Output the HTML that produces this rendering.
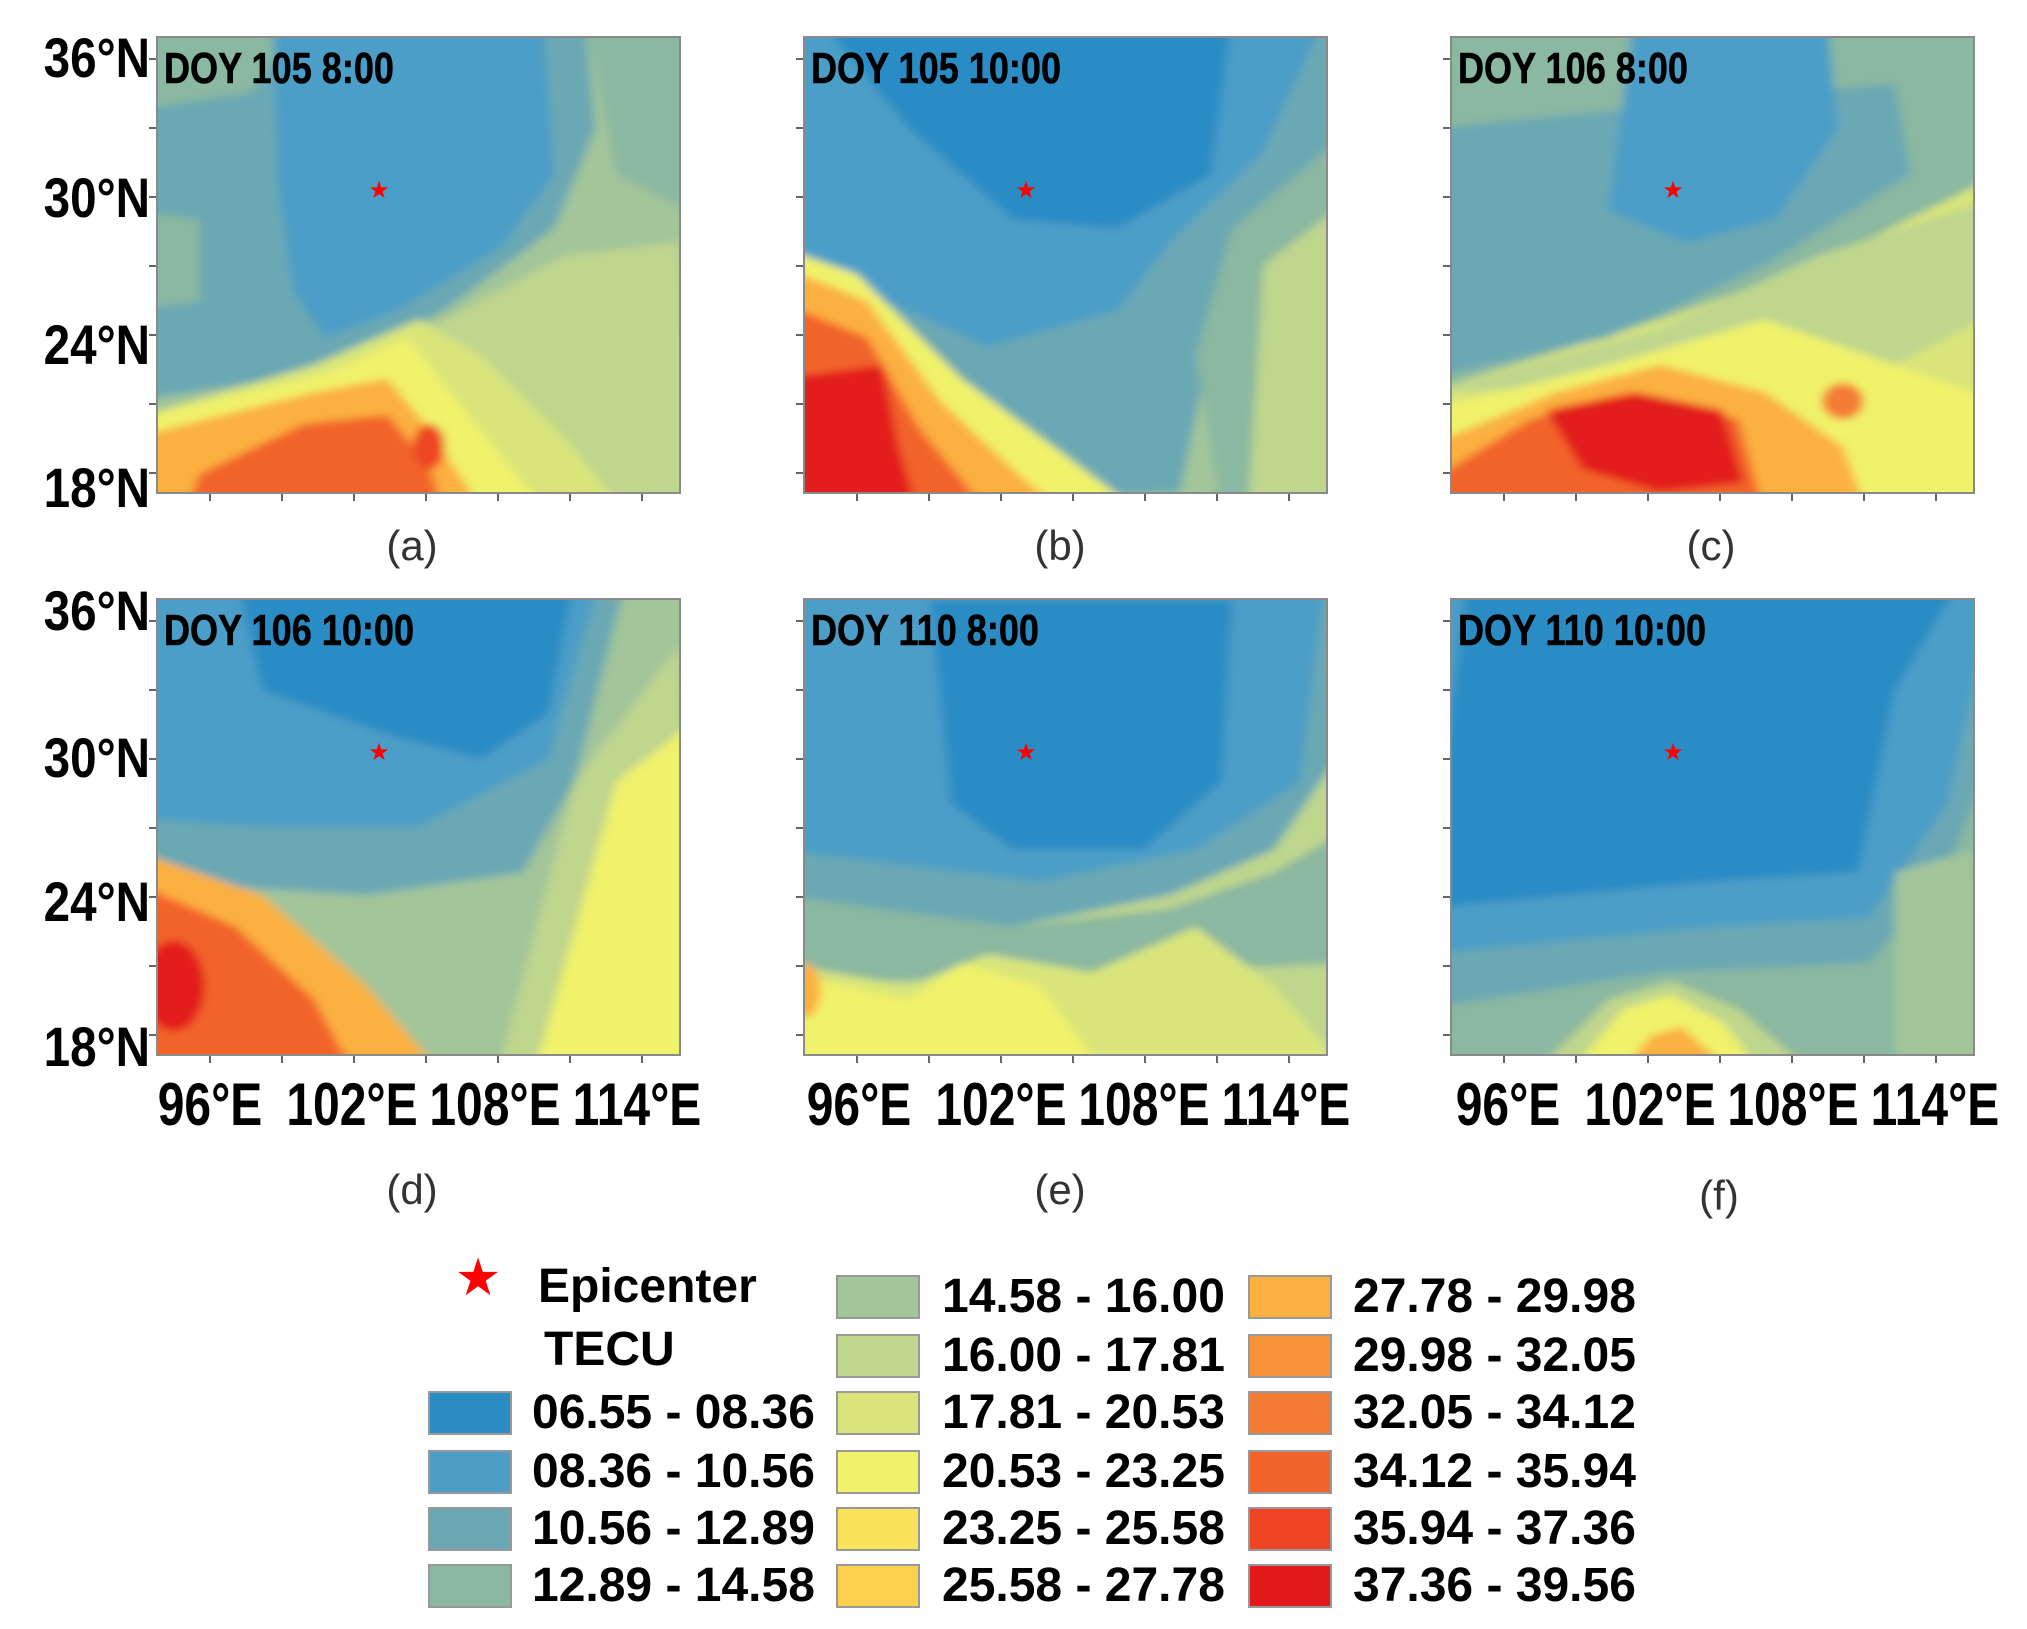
<!DOCTYPE html>
<html><head><meta charset="utf-8"><style>
body{margin:0;width:2027px;height:1629px;background:#fff;position:relative;overflow:hidden;font-family:"Liberation Sans",sans-serif;}
.p{position:absolute;width:525px;height:458px;border:2px solid #8a8a8a;box-sizing:border-box;overflow:hidden}
.p svg{position:absolute;left:0;top:0;width:100%;height:100%}
.t{position:absolute;left:6px;top:6px;font-weight:bold;font-size:44px;color:#000;transform:scaleX(0.82);transform-origin:left top;white-space:nowrap;-webkit-text-stroke:0.6px #000}
.st{position:absolute;color:#f00;font-size:24px;line-height:24px;transform:translate(-50%,-50%)}
.yl{position:absolute;font-weight:bold;font-size:56px;width:150px;text-align:right;transform:scaleX(0.85) translateY(-50%);transform-origin:right center;line-height:56px}
.xl{position:absolute;font-weight:bold;font-size:60px;transform:translate(-50%,-50%) scaleX(0.8);line-height:60px;white-space:nowrap}
.cap{position:absolute;font-size:42px;color:#333;transform:translate(-50%,-50%)}
.sw{position:absolute;width:84px;height:44px;border:2px solid #999;box-sizing:border-box}
.lt{position:absolute;font-weight:bold;font-size:48px;line-height:48px;transform:translateY(-50%);white-space:nowrap}
.tk{position:absolute;background:#666}
</style></head><body>

<svg width="0" height="0" style="position:absolute"><defs><filter id="b" x="-5%" y="-5%" width="110%" height="110%"><feGaussianBlur stdDeviation="0.9"/></filter></defs></svg>

<!-- Panel a -->
<div class="p" style="left:156px;top:36px"><svg viewBox="0 0 100 100" preserveAspectRatio="none"><g filter="url(#b)">
<rect x="-5" y="-5" width="110" height="110" fill="#a3c59a"/>
<polygon points="-5,-5 82,-5 84,20 76,42 55,60 30,74 -5,80" fill="#6aa8b4"/>
<polygon points="-5,-5 28,-5 18,12 -5,16" fill="#8ab8a0"/>
<polygon points="-5,38 8,40 8,58 -5,60" fill="#8ab8a0"/>
<polygon points="82,-5 105,-5 105,40 88,30" fill="#8ab8a0"/>
<polygon points="22,-5 74,-5 76,30 66,46 46,60 32,66 26,56 23,32" fill="#4c9ec7"/>
<polygon points="55,62 78,48 100,45 105,105 -5,105 -5,86 30,74" fill="#bfd68d"/>
<polygon points="-5,84 30,72 50,62 62,70 78,88 90,105 -5,105" fill="#d9e57a"/>
<polygon points="-5,84 32,74 48,66 56,78 68,95 75,105 -5,105" fill="#f0f26a"/>
<polygon points="-5,88 30,78 44,75 52,86 60,100 62,105 -5,105" fill="#fbb040"/>
<polygon points="5,105 8,96 28,85 44,83 52,94 55,105" fill="#f2632a"/>
<ellipse cx="52" cy="90" rx="3" ry="5" fill="#ee4424"/>
</g></svg><div class="t">DOY 105 8:00</div><div class="st" style="left:221px;top:153px">★</div></div>

<!-- Panel b -->
<div class="p" style="left:803px;top:36px"><svg viewBox="0 0 100 100" preserveAspectRatio="none"><g filter="url(#b)">
<rect x="-5" y="-5" width="110" height="110" fill="#a3c59a"/>
<polygon points="-5,-5 105,-5 105,30 82,45 72,100 -5,105" fill="#6aa8b4"/>
<polygon points="-5,-5 100,-5 88,25 70,45 60,60 35,68 10,55 -5,50" fill="#4c9ec7"/>
<polygon points="2,-5 82,-5 78,30 60,42 40,40 20,20" fill="#2b8cc4"/>
<polygon points="82,42 105,20 105,105 80,105 75,70" fill="#8ab8a0"/>
<polygon points="88,50 105,35 105,105 85,105" fill="#bfd68d"/>
<polygon points="-5,46 10,52 30,75 50,92 65,105 -5,105" fill="#f0f26a"/>
<polygon points="-5,50 12,58 26,80 40,95 50,105 -5,105" fill="#fbb040"/>
<polygon points="-5,58 12,66 22,86 32,100 34,105 -5,105" fill="#f2632a"/>
<polygon points="-5,75 15,72 18,90 22,105 -5,105" fill="#e31a1c"/>
</g></svg><div class="t">DOY 105 10:00</div><div class="st" style="left:221px;top:153px">★</div></div>

<!-- Panel c -->
<div class="p" style="left:1450px;top:36px"><svg viewBox="0 0 100 100" preserveAspectRatio="none"><g filter="url(#b)">
<rect x="-5" y="-5" width="110" height="110" fill="#d9e57a"/>
<polygon points="-5,-5 105,-5 105,30 70,50 40,62 -5,78" fill="#8ab8a0"/>
<polygon points="-5,20 85,10 88,30 60,50 30,66 -5,75" fill="#6aa8b4"/>
<polygon points="35,-5 72,-5 74,20 62,40 45,45 30,38" fill="#4c9ec7"/>
<polygon points="-5,78 40,64 70,48 105,35 105,60 80,75" fill="#bfd68d"/>
<polygon points="-5,82 30,72 60,62 80,70 105,80 105,105 -5,105" fill="#f0f26a"/>
<polygon points="-5,90 20,78 40,72 60,78 75,90 80,105 -5,105" fill="#fbb040"/>
<polygon points="-5,98 15,84 35,78 55,84 60,105 -5,105" fill="#f2632a"/>
<polygon points="18,82 35,78 52,82 56,98 40,100 25,95" fill="#e31a1c"/>
<circle cx="75" cy="80" r="4" fill="#f47b34"/>
</g></svg><div class="t">DOY 106 8:00</div><div class="st" style="left:221px;top:153px">★</div></div>

<!-- Panel d -->
<div class="p" style="left:156px;top:598px"><svg viewBox="0 0 100 100" preserveAspectRatio="none"><g filter="url(#b)">
<rect x="-5" y="-5" width="110" height="110" fill="#a3c59a"/>
<polygon points="-5,-5 90,-5 80,40 70,60 40,65 -5,62" fill="#6aa8b4"/>
<polygon points="-5,-5 85,-5 75,35 50,50 20,50 -5,48" fill="#4c9ec7"/>
<polygon points="15,-5 80,-5 75,25 62,35 45,30 20,20" fill="#2b8cc4"/>
<polygon points="80,40 100,10 105,105 65,105" fill="#bfd68d"/>
<polygon points="88,40 105,25 105,105 72,105" fill="#f0f26a"/>
<polygon points="-5,55 20,65 40,85 55,105 -5,105" fill="#fbb040"/>
<polygon points="-5,62 15,72 30,88 38,105 -5,105" fill="#f2632a"/>
<ellipse cx="3" cy="85" rx="6" ry="10" fill="#e31a1c"/>
</g></svg><div class="t">DOY 106 10:00</div><div class="st" style="left:221px;top:153px">★</div></div>

<!-- Panel e -->
<div class="p" style="left:803px;top:598px"><svg viewBox="0 0 100 100" preserveAspectRatio="none"><g filter="url(#b)">
<rect x="-5" y="-5" width="110" height="110" fill="#bfd68d"/>
<polygon points="-5,-5 105,-5 105,30 90,55 70,65 40,72 -5,68" fill="#6aa8b4"/>
<polygon points="-5,-5 100,-5 95,40 75,55 45,62 -5,55" fill="#4c9ec7"/>
<polygon points="24,0 82,0 80,40 65,55 40,55 28,45" fill="#2b8cc4"/>
<polygon points="-5,65 40,72 70,68 90,60 105,50 105,80 -5,85" fill="#8ab8a0"/>
<polygon points="-5,80 20,85 35,78 55,82 75,72 90,85 105,105 -5,105" fill="#d9e57a"/>
<polygon points="-5,82 20,88 30,80 45,85 55,100 58,105 -5,105" fill="#f0f26a"/>
<ellipse cx="0" cy="86" rx="3" ry="6" fill="#fbb040"/>
</g></svg><div class="t">DOY 110 8:00</div><div class="st" style="left:221px;top:153px">★</div></div>

<!-- Panel f -->
<div class="p" style="left:1450px;top:598px"><svg viewBox="0 0 100 100" preserveAspectRatio="none"><g filter="url(#b)">
<rect x="-5" y="-5" width="110" height="110" fill="#8ab8a0"/>
<polygon points="-5,-5 105,-5 105,30 95,60 80,80 40,82 -5,90" fill="#6aa8b4"/>
<polygon points="-5,-5 105,-5 95,45 80,70 50,72 -5,78" fill="#4c9ec7"/>
<polygon points="3,-5 98,-5 85,20 78,60 50,62 -5,68" fill="#2b8cc4"/>
<polygon points="85,60 100,55 105,105 85,100" fill="#a3c59a"/>
<polygon points="15,105 30,88 42,84 55,90 70,105" fill="#bfd68d"/>
<polygon points="22,105 33,90 42,87 52,93 60,105" fill="#f0f26a"/>
<polygon points="32,105 38,96 44,94 50,100 52,105" fill="#fbb040"/>
</g></svg><div class="t">DOY 110 10:00</div><div class="st" style="left:221px;top:153px">★</div></div>

<div id="ticks"></div>
<script>
(function(){
var c=document.getElementById('ticks'),h='';
var L=[156,803,1450],T=[36,598];
L.forEach(function(l){T.forEach(function(t){
for(var i=0;i<7;i++){var y=t+22+i*69;h+='<div class="tk" style="left:'+(l-7)+'px;top:'+y+'px;width:7px;height:2px"></div>';}
for(var j=0;j<7;j++){var x=l+53+j*72;h+='<div class="tk" style="left:'+x+'px;top:'+(t+458)+'px;width:2px;height:7px"></div>';}
});});
c.innerHTML=h;})();
</script>

<!-- Y labels -->
<div class="yl" style="left:0;top:58px">36°N</div>
<div class="yl" style="left:0;top:198px">30°N</div>
<div class="yl" style="left:0;top:345px">24°N</div>
<div class="yl" style="left:0;top:488px">18°N</div>
<div class="yl" style="left:0;top:611px">36°N</div>
<div class="yl" style="left:0;top:758px">30°N</div>
<div class="yl" style="left:0;top:902px">24°N</div>
<div class="yl" style="left:0;top:1047px">18°N</div>

<!-- X labels -->
<div class="xl" style="left:210px;top:1105px">96°E</div>
<div class="xl" style="left:352px;top:1105px">102°E</div>
<div class="xl" style="left:495px;top:1105px">108°E</div>
<div class="xl" style="left:637px;top:1105px">114°E</div>
<div class="xl" style="left:859px;top:1105px">96°E</div>
<div class="xl" style="left:1001px;top:1105px">102°E</div>
<div class="xl" style="left:1144px;top:1105px">108°E</div>
<div class="xl" style="left:1286px;top:1105px">114°E</div>
<div class="xl" style="left:1508px;top:1105px">96°E</div>
<div class="xl" style="left:1650px;top:1105px">102°E</div>
<div class="xl" style="left:1793px;top:1105px">108°E</div>
<div class="xl" style="left:1935px;top:1105px">114°E</div>

<!-- captions -->
<div class="cap" style="left:412px;top:546px">(a)</div>
<div class="cap" style="left:1060px;top:546px">(b)</div>
<div class="cap" style="left:1711px;top:546px">(c)</div>
<div class="cap" style="left:412px;top:1190px">(d)</div>
<div class="cap" style="left:1060px;top:1190px">(e)</div>
<div class="cap" style="left:1719px;top:1196px">(f)</div>

<!-- legend -->
<div style="position:absolute;left:478px;top:1278px;color:#f00;font-size:52px;transform:translate(-50%,-50%)">★</div>
<div class="lt" style="left:538px;top:1287px">Epicenter</div>
<div class="lt" style="left:544px;top:1350px">TECU</div>

<div class="sw" style="left:428px;top:1391px;background:#2b8cc4"></div><div class="lt" style="left:532px;top:1413px">06.55 - 08.36</div>
<div class="sw" style="left:428px;top:1450px;background:#4c9ec7"></div><div class="lt" style="left:532px;top:1472px">08.36 - 10.56</div>
<div class="sw" style="left:428px;top:1507px;background:#6aa8b4"></div><div class="lt" style="left:532px;top:1529px">10.56 - 12.89</div>
<div class="sw" style="left:428px;top:1564px;background:#8ab8a0"></div><div class="lt" style="left:532px;top:1586px">12.89 - 14.58</div>

<div class="sw" style="left:836px;top:1275px;background:#a3c59a"></div><div class="lt" style="left:942px;top:1297px">14.58 - 16.00</div>
<div class="sw" style="left:836px;top:1334px;background:#bfd68d"></div><div class="lt" style="left:942px;top:1356px">16.00 - 17.81</div>
<div class="sw" style="left:836px;top:1391px;background:#d9e57a"></div><div class="lt" style="left:942px;top:1413px">17.81 - 20.53</div>
<div class="sw" style="left:836px;top:1450px;background:#f0f26a"></div><div class="lt" style="left:942px;top:1472px">20.53 - 23.25</div>
<div class="sw" style="left:836px;top:1507px;background:#fae25a"></div><div class="lt" style="left:942px;top:1529px">23.25 - 25.58</div>
<div class="sw" style="left:836px;top:1564px;background:#fdd04e"></div><div class="lt" style="left:942px;top:1586px">25.58 - 27.78</div>

<div class="sw" style="left:1248px;top:1275px;background:#fbb040"></div><div class="lt" style="left:1353px;top:1297px">27.78 - 29.98</div>
<div class="sw" style="left:1248px;top:1334px;background:#f7943a"></div><div class="lt" style="left:1353px;top:1356px">29.98 - 32.05</div>
<div class="sw" style="left:1248px;top:1391px;background:#f47b34"></div><div class="lt" style="left:1353px;top:1413px">32.05 - 34.12</div>
<div class="sw" style="left:1248px;top:1450px;background:#f2632a"></div><div class="lt" style="left:1353px;top:1472px">34.12 - 35.94</div>
<div class="sw" style="left:1248px;top:1507px;background:#ee4424"></div><div class="lt" style="left:1353px;top:1529px">35.94 - 37.36</div>
<div class="sw" style="left:1248px;top:1564px;background:#e31a1c"></div><div class="lt" style="left:1353px;top:1586px">37.36 - 39.56</div>

</body></html>
